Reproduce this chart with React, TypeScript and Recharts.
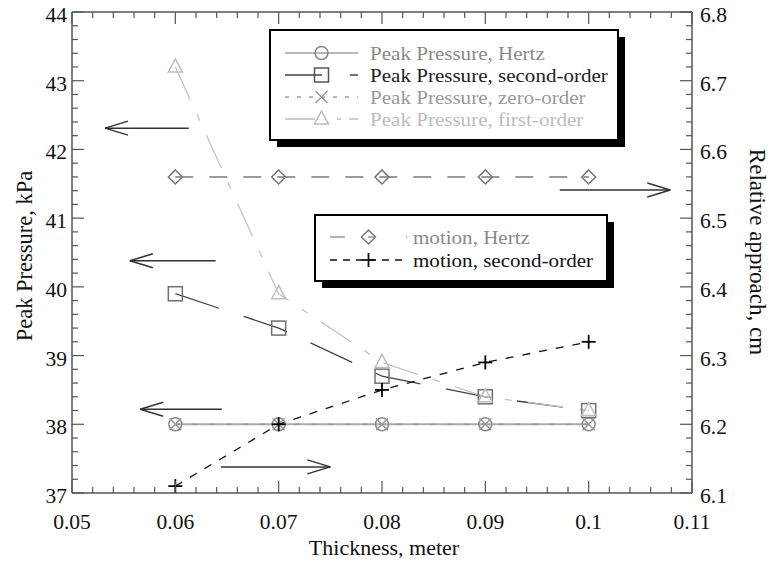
import React from 'react';
import { LineChart, Line, XAxis, YAxis, ReferenceLine } from 'recharts';

const thickness = [0.06, 0.07, 0.08, 0.09, 0.1];
const pressureHertz = [38, 38, 38, 38, 38];
const pressureSecond = [39.9, 39.4, 38.7, 38.4, 38.2];
const pressureZero = [38, 38, 38, 38, 38];
const pressureFirst = [43.2, 39.9, 38.9, 38.4, 38.2];
const motionHertz = [6.56, 6.56, 6.56, 6.56, 6.56];
const motionSecond = [6.11, 6.2, 6.25, 6.29, 6.32];

const xMajor = [0.05, 0.06, 0.07, 0.08, 0.09, 0.1, 0.11];
const xLabels = ['0.05', '0.06', '0.07', '0.08', '0.09', '0.1', '0.11'];
const leftMajor = [37, 38, 39, 40, 41, 42, 43, 44];
const leftLabels = ['37', '38', '39', '40', '41', '42', '43', '44'];
const rightMajor = [6.1, 6.2, 6.3, 6.4, 6.5, 6.6, 6.7, 6.8];
const rightLabels = ['6.1', '6.2', '6.3', '6.4', '6.5', '6.6', '6.7', '6.8'];

// annotation arrows, from -> tip, on the left (pressure) scale
const arrows = [
  { from: 0.0613, to: 0.0532, y: 42.31 },
  { from: 0.0972, to: 0.1079, y: 41.41 },
  { from: 0.0639, to: 0.0556, y: 40.38 },
  { from: 0.0645, to: 0.0566, y: 38.22 },
  { from: 0.0644, to: 0.075, y: 37.38 },
];

const FONT = '"Liberation Serif", "Times New Roman", serif';
const AXIS = '#555';

const data = thickness.map((x, i) => ({
  x,
  hertz: pressureHertz[i],
  second: pressureSecond[i],
  zero: pressureZero[i],
  first: pressureFirst[i],
  mHertz: motionHertz[i],
  mSecond: motionSecond[i],
}));

// 5 minor steps between majors
const withMinor = (majors: number[]) => {
  const out: number[] = [];
  for (let i = 0; i < majors.length - 1; i++) {
    const step = (majors[i + 1] - majors[i]) / 5;
    for (let k = 0; k < 5; k++) out.push(majors[i] + k * step);
  }
  out.push(majors[majors.length - 1]);
  return out;
};

const findMajor = (v: number, majors: number[]) =>
  majors.findIndex((m) => Math.abs(m - v) < 1e-7);

const BottomTick = (p: any) => {
  const idx = findMajor(p.payload.value, xMajor);
  const len = idx >= 0 ? 12 : 6;
  return (
    <g>
      <line x1={p.x} x2={p.x} y1={p.y} y2={p.y - len} stroke={AXIS} strokeWidth={1.2} />
      {idx >= 0 && (
        <text x={p.x} y={p.y + 36} textAnchor="middle" fontFamily={FONT} fontSize={21.5} fill="#111">
          {xLabels[idx]}
        </text>
      )}
    </g>
  );
};

const TopTick = (p: any) => {
  const idx = findMajor(p.payload.value, xMajor);
  const len = idx >= 0 ? 12 : 6;
  return <line x1={p.x} x2={p.x} y1={p.y} y2={p.y + len} stroke={AXIS} strokeWidth={1.2} />;
};

const LeftTick = (p: any) => {
  const idx = findMajor(p.payload.value, leftMajor);
  const len = idx >= 0 ? 12 : 6;
  return (
    <g>
      <line x1={p.x} x2={p.x + len} y1={p.y} y2={p.y} stroke={AXIS} strokeWidth={1.2} />
      {idx >= 0 && (
        <text x={p.x - 5} y={p.y + 10} textAnchor="end" fontFamily={FONT} fontSize={21.5} fill="#111">
          {leftLabels[idx]}
        </text>
      )}
    </g>
  );
};

const RightTick = (p: any) => {
  const idx = findMajor(p.payload.value, rightMajor);
  const len = idx >= 0 ? 12 : 6;
  return (
    <g>
      <line x1={p.x} x2={p.x - len} y1={p.y} y2={p.y} stroke={AXIS} strokeWidth={1.2} />
      {idx >= 0 && (
        <text x={p.x + 8} y={p.y + 10} textAnchor="start" fontFamily={FONT} fontSize={21.5} fill="#111">
          {rightLabels[idx]}
        </text>
      )}
    </g>
  );
};

type MarkerKind = 'circle' | 'cross' | 'square' | 'triangle' | 'diamond' | 'plus';

const Marker = ({ kind, cx, cy, color }: { kind: MarkerKind; cx: number; cy: number; color: string }) => {
  const common = { fill: 'none', stroke: color, strokeWidth: 1.5 };
  switch (kind) {
    case 'circle':
      return <circle cx={cx} cy={cy} r={6.5} {...common} />;
    case 'cross':
      return (
        <g {...common}>
          <line x1={cx - 6} y1={cy - 6} x2={cx + 6} y2={cy + 6} />
          <line x1={cx - 6} y1={cy + 6} x2={cx + 6} y2={cy - 6} />
        </g>
      );
    case 'square':
      return <rect x={cx - 7} y={cy - 7} width={14} height={14} {...common} />;
    case 'triangle':
      return <polygon points={`${cx},${cy - 8} ${cx + 7},${cy + 5} ${cx - 7},${cy + 5}`} {...common} />;
    case 'diamond':
      return <polygon points={`${cx},${cy - 7} ${cx + 7},${cy} ${cx},${cy + 7} ${cx - 7},${cy}`} {...common} />;
    default:
      return (
        <g {...common} strokeWidth={1.8}>
          <line x1={cx - 7} y1={cy} x2={cx + 7} y2={cy} />
          <line x1={cx} y1={cy - 7} x2={cx} y2={cy + 7} />
        </g>
      );
  }
};

const dotOf = (kind: MarkerKind, color: string) => (p: any) =>
  <Marker key={`${kind}-${p.index}`} kind={kind} cx={p.cx} cy={p.cy} color={color} />;

const ArrowShape = (p: any) => {
  const { x1, y1, x2, y2 } = p;
  const dir = x2 > x1 ? 1 : -1;
  return (
    <g stroke="#333" strokeWidth={1.5} fill="none">
      <line x1={x1} y1={y1} x2={x2} y2={y2} />
      <line x1={x2} y1={y2} x2={x2 - dir * 23} y2={y2 - 7} />
      <line x1={x2} y1={y2} x2={x2 - dir * 23} y2={y2 + 7} />
    </g>
  );
};

const legendTop = [
  { label: 'Peak Pressure, Hertz', text: '#8a8a8a', line: '#a0a0a0', dash: undefined, kind: 'circle' as MarkerKind, mark: '#8a8a8a' },
  { label: 'Peak Pressure, second-order', text: '#222', line: '#444', dash: '37 28 8', kind: 'square' as MarkerKind, mark: '#555' },
  { label: 'Peak Pressure, zero-order', text: '#9a9a9a', line: '#a0a0a0', dash: '4 8', kind: 'cross' as MarkerKind, mark: '#9a9a9a' },
  { label: 'Peak Pressure, first-order', text: '#bdbdbd', line: '#bdbdbd', dash: '30 22 4 8', kind: 'triangle' as MarkerKind, mark: '#bdbdbd' },
];

const legendBottom = [
  { label: 'motion, Hertz', text: '#8a8a8a', line: '#999', dash: '15 23 6 32 5', kind: 'diamond' as MarkerKind, mark: '#777' },
  { label: 'motion, second-order', text: '#111', line: '#111', dash: '7 6', kind: 'plus' as MarkerKind, mark: '#111' },
];

const LegendBox = ({ x, y, w, h, rows, iconX, iconW, textX, rowY }: any) => (
  <g>
    <rect x={x + 7} y={y + 7} width={w} height={h} fill="#000" />
    <rect x={x} y={y} width={w} height={h} fill="#fff" stroke="#000" strokeWidth={2} />
    {rows.map((r: any, i: number) => {
      const cy = rowY[i];
      return (
        <g key={r.label}>
          <line x1={iconX} x2={iconX + iconW} y1={cy} y2={cy} stroke={r.line} strokeWidth={1.3} strokeDasharray={r.dash} />
          <Marker kind={r.kind} cx={iconX + iconW / 2} cy={cy} color={r.mark} />
          <text transform={`translate(${textX},${cy + 7}) scale(1.08,1)`} fontFamily={FONT} fontSize={19.5} fill={r.text}>
            {r.label}
          </text>
        </g>
      );
    })}
  </g>
);

export default function App() {
  return (
    <div style={{ position: 'relative', width: 769, height: 562, background: '#fff' }}>
      <style>{'body{margin:0;background:#fff}'}</style>
      <LineChart width={769} height={562} data={data} margin={{ top: 11, right: 76, bottom: 68, left: 71 }}>
        <XAxis
          dataKey="x"
          type="number"
          domain={[0.05, 0.11]}
          ticks={withMinor(xMajor)}
          interval={0}
          height={1}
          tickSize={0}
          tickMargin={0}
          tickLine={false}
          tick={BottomTick}
          axisLine={{ stroke: AXIS, strokeWidth: 1.5 }}
          allowDataOverflow
        />
        <XAxis
          xAxisId="top"
          orientation="top"
          dataKey="x"
          type="number"
          domain={[0.05, 0.11]}
          ticks={withMinor(xMajor)}
          interval={0}
          height={1}
          tickSize={0}
          tickMargin={0}
          tickLine={false}
          tick={TopTick}
          axisLine={{ stroke: AXIS, strokeWidth: 1.5 }}
          allowDataOverflow
        />
        <YAxis
          yAxisId="left"
          type="number"
          domain={[37, 44]}
          ticks={withMinor(leftMajor)}
          interval={0}
          width={1}
          tickSize={0}
          tickMargin={0}
          tickLine={false}
          tick={LeftTick}
          axisLine={{ stroke: AXIS, strokeWidth: 1.5 }}
          allowDataOverflow
        />
        <YAxis
          yAxisId="right"
          orientation="right"
          type="number"
          domain={[6.1, 6.8]}
          ticks={withMinor(rightMajor)}
          interval={0}
          width={1}
          tickSize={0}
          tickMargin={0}
          tickLine={false}
          tick={RightTick}
          axisLine={{ stroke: AXIS, strokeWidth: 1.5 }}
          allowDataOverflow
        />
        {arrows.map((a, i) => (
          <ReferenceLine
            key={i}
            yAxisId="left"
            segment={[{ x: a.from, y: a.y }, { x: a.to, y: a.y }]}
            shape={ArrowShape}
            ifOverflow="visible"
          />
        ))}
        <Line yAxisId="left" dataKey="hertz" stroke="#aaa" strokeWidth={2} dot={dotOf('circle', '#8a8a8a')} isAnimationActive={false} />
        <Line yAxisId="left" dataKey="second" stroke="#444" strokeWidth={1.3} strokeDasharray="46 26" dot={dotOf('square', '#707070')} isAnimationActive={false} />
        <Line yAxisId="left" dataKey="zero" stroke="#999" strokeWidth={1.5} strokeDasharray="5 12" dot={dotOf('cross', '#999')} isAnimationActive={false} />
        <Line yAxisId="left" dataKey="first" stroke="#c2c2c2" strokeWidth={1.3} strokeDasharray="36 16 7 16" dot={dotOf('triangle', '#bdbdbd')} isAnimationActive={false} />
        <Line yAxisId="right" dataKey="mHertz" stroke="#9a9a9a" strokeWidth={2} strokeDasharray="18 16" dot={dotOf('diamond', '#777')} isAnimationActive={false} />
        <Line yAxisId="right" dataKey="mSecond" stroke="#111" strokeWidth={1.3} strokeDasharray="8 9" dot={dotOf('plus', '#000')} isAnimationActive={false} />
      </LineChart>
      <svg width={769} height={562} style={{ position: 'absolute', left: 0, top: 0, pointerEvents: 'none' }}>
        <LegendBox x={270} y={30} w={348} h={110} rows={legendTop} iconX={285} iconW={73} textX={370} rowY={[53, 75, 97, 119]} />
        <LegendBox x={315} y={215} w={292} h={66} rows={legendBottom} iconX={330} iconW={77} textX={413} rowY={[237, 260]} />
        <text x={384} y={555} textAnchor="middle" fontFamily={FONT} fontSize={22} fill="#111">
          Thickness, meter
        </text>
        <text transform="translate(32,256) rotate(-90)" textAnchor="middle" fontFamily={FONT} fontSize={22.5} fill="#111">
          Peak Pressure, kPa
        </text>
        <text transform="translate(750,252) rotate(90)" textAnchor="middle" fontFamily={FONT} fontSize={23} fill="#111">
          Relative approach, cm
        </text>
      </svg>
    </div>
  );
}
